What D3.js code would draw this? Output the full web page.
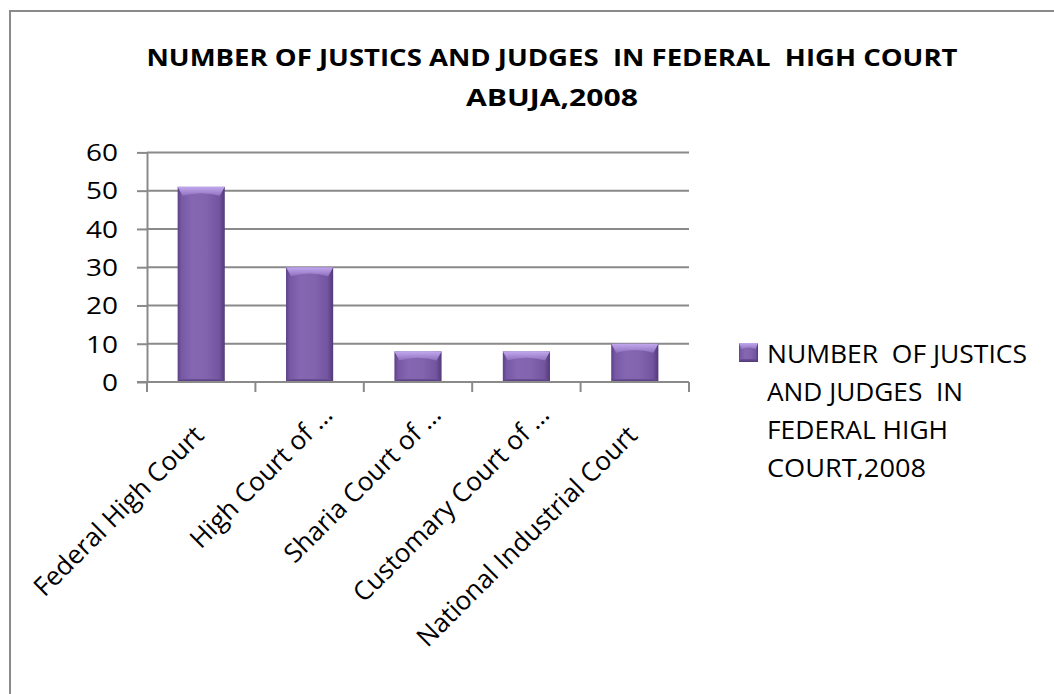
<!DOCTYPE html>
<html><head><meta charset="utf-8">
<script src="https://cdn.jsdelivr.net/npm/d3@7"></script>
<style>
html,body{margin:0;padding:0;background:#fff;}
svg text{font-family:"Open Sans","Noto Sans",sans-serif;fill:#000;white-space:pre;}
</style></head>
<body>
<script>
const categories = ["Federal High Court","High Court of …","Sharia Court of …","Customary Court of …","National Industrial Court"];
const values = [51,30,8,8,10];
const yTicks = [0,10,20,30,40,50,60];
const titleLines = ["NUMBER OF JUSTICS AND JUDGES  IN FEDERAL  HIGH COURT","ABUJA,2008"];
const legendLines = ["NUMBER  OF JUSTICS","AND JUDGES  IN","FEDERAL HIGH","COURT,2008"];

const W = 1054, H = 694;
const svg = d3.select("body").append("svg").attr("width", W).attr("height", H);

const defs = svg.append("defs");
const gH = defs.append("linearGradient").attr("id","barH").attr("x1","0").attr("x2","1").attr("y1","0").attr("y2","0");
[["0%","#5d4186"],["8%","#7658a4"],["30%","#8466b2"],["60%","#8163ae"],["88%","#7254a0"],["100%","#533a78"]]
  .forEach(s=>gH.append("stop").attr("offset",s[0]).attr("stop-color",s[1]));
const gTop = defs.append("linearGradient").attr("id","barTop").attr("x1","0").attr("x2","0").attr("y1","0").attr("y2","1");
[["0%","#c2a8ee"],["100%","#8f71bd"]].forEach(s=>gTop.append("stop").attr("offset",s[0]).attr("stop-color",s[1]));
const gBot = defs.append("linearGradient").attr("id","barBot").attr("x1","0").attr("x2","0").attr("y1","0").attr("y2","1");
[["0%","#6d509a"],["100%","#4f3772"]].forEach(s=>gBot.append("stop").attr("offset",s[0]).attr("stop-color",s[1]));

svg.append("rect").attr("x",10).attr("y",11).attr("width",1100).attr("height",800)
  .attr("fill","none").attr("stroke","#8a8a8a").attr("stroke-width",2);

// title
svg.selectAll("text.title").data(titleLines).join("text").attr("class","title")
  .attr("x",552).attr("y",(d,i)=>66+i*40)
  .attr("text-anchor","middle").attr("font-weight","bold").attr("font-size",22.5)
  .attr("textLength",(d,i)=> i===0?811:172).attr("lengthAdjust","spacingAndGlyphs")
  .text(d=>d);

const x = d3.scaleBand().domain(categories).range([147, 689]);
const y = d3.scaleLinear().domain([0,60]).range([382, 152.4]);

svg.append("g").selectAll("line").data(yTicks.filter(v=>v>0)).join("line")
  .attr("x1",147).attr("x2",689).attr("y1",d=>y(d)).attr("y2",d=>y(d))
  .attr("stroke","#8a8a8a").attr("stroke-width",2);

const yAxis = svg.append("g").attr("transform","translate(147,0)")
  .call(d3.axisLeft(y).tickValues(yTicks).tickSize(10).tickPadding(19).tickSizeOuter(0));
yAxis.select(".domain").attr("stroke","#8a8a8a").attr("stroke-width",2);
yAxis.selectAll(".tick line").attr("stroke","#8a8a8a").attr("stroke-width",2);
yAxis.selectAll(".tick text").attr("font-size",23).attr("font-family","Open Sans").attr("dy","0.36em")
  .attr("textLength",d=>d===0?16:32).attr("lengthAdjust","spacingAndGlyphs");

const bw = x.bandwidth()*0.435;
const bars = svg.append("g").selectAll("g").data(values.map((v,i)=>({c:categories[i],v}))).join("g");
function drawBevel(g, x0, y0, w, h){
  const b = Math.min(9, h/3), s = Math.min(5, w/8);
  g.append("rect").attr("x",x0).attr("y",y0).attr("width",w).attr("height",h).attr("fill","url(#barH)");
  g.append("path").attr("d",`M${x0},${y0}L${x0+w},${y0}L${x0+w-s},${y0+b}Q${x0+w/2},${y0+b*0.4} ${x0+s},${y0+b}Z`)
    .attr("fill","url(#barTop)");
  g.append("path").attr("d",`M${x0},${y0+h}L${x0+w},${y0+h}L${x0+w-s*0.6},${y0+h-3}L${x0+s*0.6},${y0+h-3}Z`)
    .attr("fill","url(#barBot)");
}
bars.each(function(d){
  const x0 = x(d.c) + (x.bandwidth()-bw)/2;
  drawBevel(d3.select(this), x0, y(d.v), bw, y(0)-y(d.v));
});

svg.append("line").attr("x1",137).attr("x2",689).attr("y1",y(0)).attr("y2",y(0))
  .attr("stroke","#8a8a8a").attr("stroke-width",2);
const bounds = categories.map(c=>x(c)).concat([x.range()[1]]);
svg.append("g").selectAll("line").data(bounds).join("line")
  .attr("x1",d=>d).attr("x2",d=>d).attr("y1",y(0)).attr("y2",y(0)+10)
  .attr("stroke","#8a8a8a").attr("stroke-width",2);

// x labels rotated; truncated labels sit further along their own direction
svg.append("g").selectAll("text").data(categories).join("text")
  .attr("text-anchor","end").attr("font-size",26)
  .attr("transform",d=>{
    const t = d.endsWith("…") ? 29 : 0;
    const ex = x(d)+x.bandwidth()/2 + 4 + t*0.707, ey = y(0) + 55 - t*0.707;
    return `translate(${ex},${ey}) rotate(-45)`;
  })
  .text(d=>d);

const lg = svg.append("g");
drawBevel(lg, 739, 343, 19, 19);
lg.selectAll("text").data(legendLines).join("text")
  .attr("x",767).attr("y",(d,i)=>363+i*38).attr("font-size",25)
  .attr("textLength",(d,i)=>[260,196,181,159][i]).attr("lengthAdjust","spacingAndGlyphs")
  .text(d=>d);
</script>
</body></html>
